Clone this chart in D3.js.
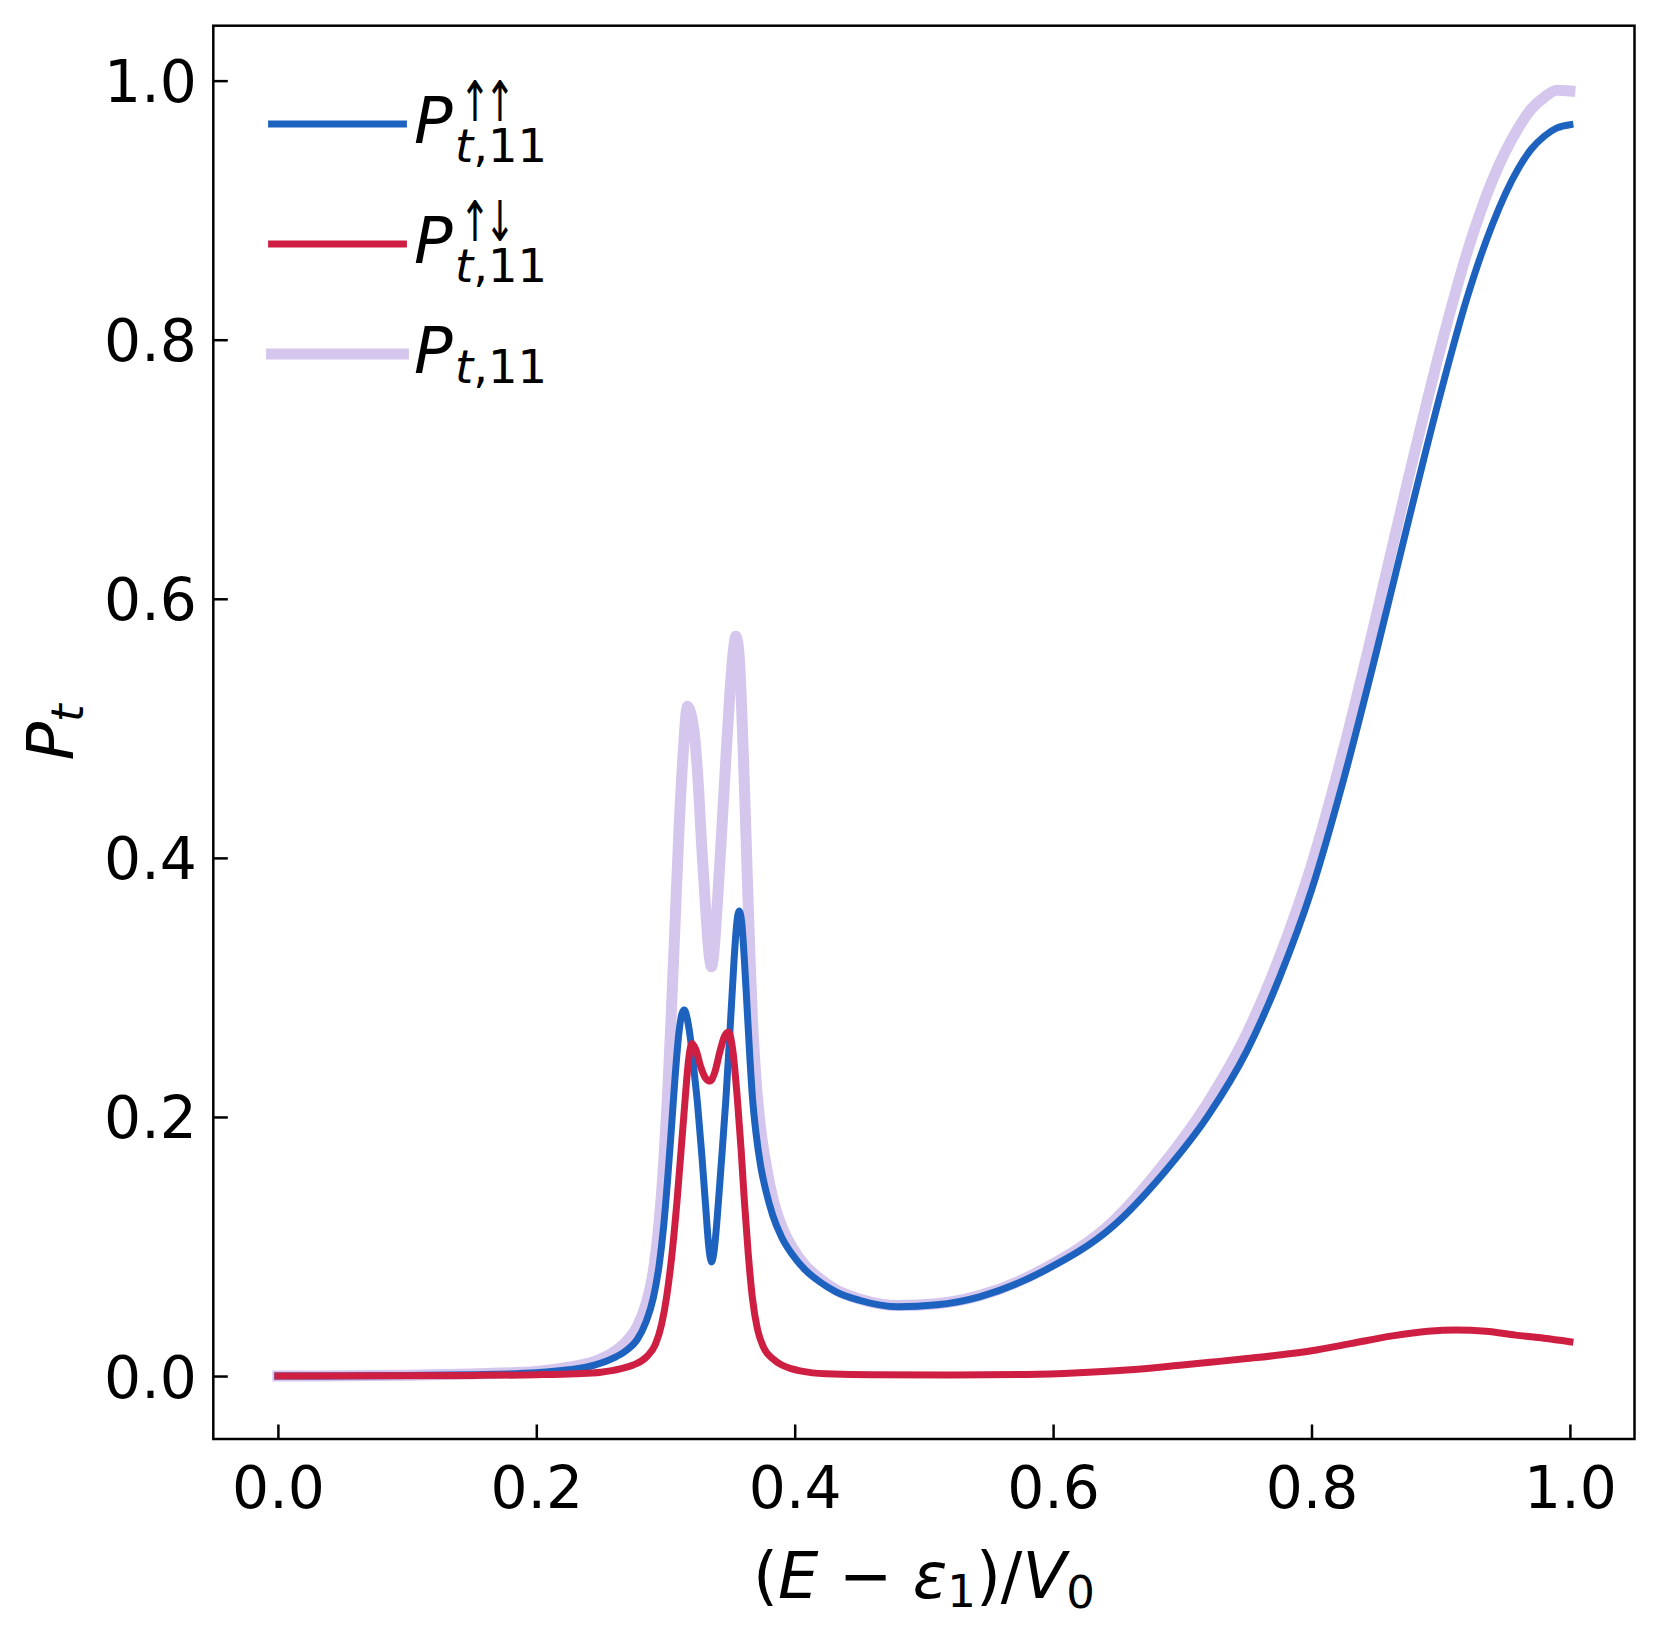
<!DOCTYPE html>
<html>
<head>
<meta charset="utf-8">
<script src="https://cdn.jsdelivr.net/npm/d3@7"></script>
<style>
  html, body { margin: 0; padding: 0; background: #fff; }
  svg { display: block; }
  text { font-family: "DejaVu Sans", sans-serif; fill: #000; }
</style>
</head>
<body>
<svg id="chart" width="1662" height="1642"></svg>
<script>
// ---- data ----
const xBlue = [0, 0.1, 0.15, 0.2, 0.225, 0.245, 0.26, 0.27, 0.278, 0.285, 0.2905, 0.295, 0.2985, 0.3015, 0.3045, 0.3075, 0.3105, 0.3128, 0.3145,
  0.317, 0.320, 0.3225, 0.3248, 0.328, 0.331, 0.3335, 0.3356, 0.3378, 0.340, 0.343, 0.3467, 0.350, 0.353, 0.355, 0.357,
  0.359, 0.361, 0.363, 0.365, 0.3673, 0.370, 0.3735, 0.3777, 0.383, 0.390, 0.398, 0.408, 0.419, 0.432, 0.45, 0.48, 0.51, 0.543, 0.594, 0.646, 0.685,
  0.72, 0.75, 0.775, 0.80, 0.825, 0.85, 0.875, 0.90, 0.92, 0.94, 0.96, 0.97, 0.98, 0.99, 1.0];
const yBlue = [0, 0.0004, 0.001, 0.0025, 0.0048, 0.0085, 0.014, 0.020, 0.028, 0.042, 0.060, 0.085, 0.115, 0.150, 0.190, 0.232, 0.266, 0.280, 0.2825,
  0.275, 0.255, 0.232, 0.210, 0.172, 0.132, 0.100, 0.088, 0.098, 0.122, 0.162, 0.213, 0.268, 0.320, 0.348, 0.359,
  0.350, 0.322, 0.287, 0.251, 0.215, 0.188, 0.163, 0.143, 0.124, 0.107, 0.094, 0.082, 0.073, 0.065, 0.0585, 0.0535, 0.055, 0.0612, 0.0818, 0.1153, 0.156,
  0.201, 0.251, 0.307, 0.375, 0.461, 0.558, 0.660, 0.759, 0.831, 0.889, 0.932, 0.947, 0.957, 0.9635, 0.966];

const xRed = [0, 0.15, 0.2, 0.23, 0.25, 0.265, 0.275, 0.285, 0.292, 0.297, 0.301, 0.305, 0.309, 0.3145, 0.318, 0.3204,
  0.3235, 0.3275, 0.331, 0.3344, 0.338, 0.342, 0.3455, 0.3488, 0.352, 0.3557, 0.3585, 0.361, 0.364, 0.3673, 0.371, 0.376, 0.3828,
  0.39, 0.398, 0.41, 0.43, 0.46, 0.52, 0.58, 0.62, 0.66, 0.70, 0.7234, 0.75, 0.775, 0.80, 0.83, 0.8627, 0.89, 0.9117, 0.935, 0.958, 0.98, 1.0];
const yRed = [0, 0.0005, 0.001, 0.0018, 0.003, 0.0055, 0.0085, 0.0145, 0.024, 0.040, 0.062, 0.094, 0.136, 0.205, 0.245, 0.2567,
  0.252, 0.238, 0.230, 0.2277, 0.234, 0.250, 0.262, 0.2655, 0.252, 0.213, 0.175, 0.136, 0.095, 0.060, 0.037, 0.022, 0.0135,
  0.0085, 0.0055, 0.003, 0.0015, 0.001, 0.0008, 0.0012, 0.0025, 0.0048, 0.0085, 0.0108, 0.0135, 0.0162, 0.0195, 0.025, 0.031, 0.0345, 0.0355, 0.0345, 0.0316, 0.0292, 0.0265];

const xTotal = [0, 0.1, 0.15, 0.2, 0.225, 0.245, 0.26, 0.27, 0.278, 0.285, 0.2905, 0.295, 0.2985, 0.3015, 0.3045, 0.3075, 0.3105, 0.3135, 0.317,
  0.3195, 0.3225, 0.3255, 0.328, 0.331, 0.3335, 0.3356, 0.3378, 0.340, 0.343, 0.3467, 0.350, 0.3525, 0.3545, 0.357, 0.359, 0.361, 0.363, 0.365,
  0.3673, 0.370, 0.3735, 0.3777, 0.383, 0.390, 0.398, 0.408, 0.419, 0.432, 0.45, 0.48, 0.51, 0.543, 0.594, 0.646, 0.685,
  0.72, 0.75, 0.775, 0.80, 0.825, 0.85, 0.875, 0.90, 0.92, 0.94, 0.96, 0.97, 0.98, 0.99, 1.0];
const yTotal = [0, 0.0006, 0.0016, 0.0035, 0.0068, 0.0113, 0.0185, 0.027, 0.038, 0.056, 0.0805, 0.1185, 0.163, 0.215, 0.280, 0.352, 0.423, 0.478, 0.517,
  0.512, 0.494, 0.455, 0.409, 0.362, 0.328, 0.316, 0.331, 0.363, 0.412, 0.476, 0.530, 0.560, 0.571, 0.556, 0.514, 0.458, 0.395, 0.334,
  0.275, 0.230, 0.192, 0.164, 0.1375, 0.1155, 0.0995, 0.0855, 0.0755, 0.0665, 0.0595, 0.0544, 0.0558, 0.0621, 0.0833, 0.119, 0.163,
  0.2115, 0.2645, 0.323, 0.3945, 0.4845, 0.5865, 0.693, 0.794, 0.866, 0.923, 0.9633, 0.978, 0.987, 0.9925, 0.992];

const xTicks = [0, 0.2, 0.4, 0.6, 0.8, 1.0];
const yTicks = [0, 0.2, 0.4, 0.6, 0.8, 1.0];
const seriesColors = ["#1c62be", "#ce1e42", "#d5c6ed"];
const legendSup = [["\u2191", "\u2191"], ["\u2191", "\u2193"], []];

// ---- layout ----
const svg = d3.select("#chart");
const L = 213.3, R = 1634.5, T = 25.7, B = 1439;
const x = d3.scaleLinear().domain([-0.05, 1.05]).range([L, R]);
const y = d3.scaleLinear().domain([-0.0486, 1.0424]).range([B, T]);

svg.append("rect").attr("width", 1662).attr("height", 1642).attr("fill", "#fff");

const line = d3.line().x(d => x(d[0])).y(d => y(d[1])).curve(d3.curveMonotoneX);
const zip = (a, b) => a.map((v, i) => [v, b[i]]);

const plot = svg.append("g");
plot.append("path").datum(zip(xTotal, yTotal)).attr("d", line)
  .attr("fill", "none").attr("stroke", seriesColors[2]).attr("stroke-width", 11)
  .attr("stroke-linecap", "square").attr("stroke-linejoin", "round");
plot.append("path").datum(zip(xBlue, yBlue)).attr("d", line)
  .attr("fill", "none").attr("stroke", seriesColors[0]).attr("stroke-width", 7)
  .attr("stroke-linecap", "square").attr("stroke-linejoin", "round");
plot.append("path").datum(zip(xRed, yRed)).attr("d", line)
  .attr("fill", "none").attr("stroke", seriesColors[1]).attr("stroke-width", 7)
  .attr("stroke-linecap", "square").attr("stroke-linejoin", "round");

// axes with inward ticks
const fmt = d3.format(".1f");
const gx = svg.append("g").attr("transform", `translate(0,${B})`)
  .call(d3.axisBottom(x).tickValues(xTicks).tickFormat(fmt).tickSize(-14.5).tickPadding(14.6));
const gy = svg.append("g").attr("transform", `translate(${L},0)`)
  .call(d3.axisLeft(y).tickValues(yTicks).tickFormat(fmt).tickSize(-14.5).tickPadding(16.5));
[gx, gy].forEach(g => {
  g.select(".domain").remove();
  g.selectAll(".tick line").attr("stroke", "#000").attr("stroke-width", 2.5);
  g.selectAll(".tick text").attr("font-family", "DejaVu Sans").attr("font-size", 58.3).attr("fill", "#000");
});
gx.selectAll(".tick text").attr("y", 0).attr("dy", 69);
gy.selectAll(".tick text").attr("dy", "0.36em");

// frame
svg.append("rect").attr("x", L).attr("y", T).attr("width", R - L).attr("height", B - T)
  .attr("fill", "none").attr("stroke", "#000").attr("stroke-width", 2.5);

// x label
const xl = svg.append("text").attr("x", (L + R) / 2).attr("y", 1598)
  .attr("text-anchor", "middle").attr("font-size", 64);
xl.append("tspan").text("(");
xl.append("tspan").attr("font-style", "italic").text("E");
xl.append("tspan").text(" \u2212 ");
xl.append("tspan").attr("font-style", "italic").text("\u03b5");
xl.append("tspan").attr("font-size", 45).attr("dy", 9).text("1");
xl.append("tspan").attr("dy", -9).text(")/");
xl.append("tspan").attr("font-style", "italic").text("V");
xl.append("tspan").attr("font-size", 45).attr("dy", 10).text("0");

// y label
const yl = svg.append("text").attr("transform", `translate(73,${(T + B) / 2}) rotate(-90)`)
  .attr("text-anchor", "middle").attr("font-size", 64);
yl.append("tspan").attr("font-style", "italic").text("P");
yl.append("tspan").attr("font-style", "italic").attr("font-size", 45).attr("dy", 10).text("t");

// legend
const legY = [124, 244, 354];
const legW = [7, 7, 11];
const pBase = [143.3, 263.3, 373.3];
const subBase = [161.7, 281.7, 383.3];
const supBase = [121, 241, 0];
const supX = [475, 500];
const leg = svg.append("g");
seriesColors.forEach((c, i) => {
  leg.append("line").attr("x1", 271.6).attr("x2", 403.4).attr("y1", legY[i]).attr("y2", legY[i])
    .attr("stroke", c).attr("stroke-width", legW[i]).attr("stroke-linecap", "square");
  leg.append("text").attr("x", 414).attr("y", pBase[i]).attr("font-size", 64)
    .attr("font-style", "italic").text("P");
  legendSup[i].forEach((a, k) => {
    leg.append("text").attr("transform", `translate(${supX[k]},${supBase[i]}) scale(0.66,1)`)
      .attr("text-anchor", "middle").attr("font-size", 56).text(a);
  });
  const s = leg.append("text").attr("x", 455).attr("y", subBase[i]).attr("font-size", 46.5);
  s.append("tspan").attr("font-style", "italic").text("t");
  s.append("tspan").text(",11");
});
</script>
</body>
</html>
